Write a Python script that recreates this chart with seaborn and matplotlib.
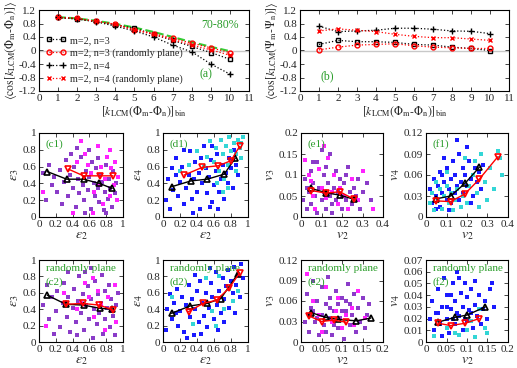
import numpy as np
import pandas as pd
import matplotlib
matplotlib.use("Agg")
import matplotlib.pyplot as plt
import seaborn as sns

sns.set_style("ticks")
plt.rcParams['font.family'] = ['Liberation Serif', 'DejaVu Serif']
plt.rcParams['mathtext.fontset'] = 'stix'
plt.rcParams['xtick.direction'] = 'in'
plt.rcParams['ytick.direction'] = 'in'
plt.rcParams['xtick.top'] = True
plt.rcParams['ytick.right'] = True
plt.rcParams['font.size'] = 8

GREEN = '#2a9d2a'
PURPLE = '#8a3cc8'
MAGENTA = '#ff22ff'
BLUE = '#1a1aff'
CYAN = '#33d6d6'

# ---------------- data: panel (a) ----------------
bins = [1, 2, 3, 4, 5, 6, 7, 8, 9, 10]
a_m2n3 = [0.98, 0.94, 0.86, 0.76, 0.66, 0.48, 0.30, 0.12, -0.06, -0.26]
a_m2n3_rand = [0.98, 0.95, 0.86, 0.78, 0.62, 0.50, 0.36, 0.22, 0.08, -0.06]
a_m2n4 = [0.98, 0.93, 0.85, 0.72, 0.58, 0.40, 0.16, -0.04, -0.40, -0.70]
a_m2n4_rand = [0.98, 0.95, 0.86, 0.78, 0.60, 0.48, 0.32, 0.16, 0.02, -0.14]
a_green = [0.99, 0.95, 0.88, 0.79, 0.68, 0.55, 0.40, 0.25, 0.11, -0.02]

# ---------------- data: panel (b) ----------------
b_m2n3 = [0.18, 0.30, 0.26, 0.26, 0.24, 0.18, 0.16, 0.10, 0.06, 0.00]
b_m2n3_rand = [0.02, 0.10, 0.16, 0.18, 0.20, 0.14, 0.10, 0.08, 0.06, 0.06]
b_m2n4 = [0.72, 0.56, 0.58, 0.60, 0.66, 0.66, 0.63, 0.58, 0.57, 0.50]
b_m2n4_rand = [0.58, 0.64, 0.60, 0.56, 0.48, 0.42, 0.38, 0.38, 0.34, 0.30]

# ---------------- data: scatter panels ----------------
c1_p = [(0.05,0.52),(0.08,0.20),(0.12,0.62),(0.15,0.38),(0.18,0.48),(0.22,0.30),(0.25,0.56),(0.27,0.15),(0.30,0.42),(0.32,0.68),(0.35,0.25),(0.37,0.50),(0.40,0.35),(0.42,0.60),(0.44,0.12),(0.46,0.45),(0.48,0.28),(0.50,0.72),(0.52,0.38),(0.54,0.20),(0.56,0.55),(0.58,0.32),(0.60,0.48),(0.62,0.10),(0.63,0.65),(0.65,0.40),(0.67,0.25),(0.68,0.58),(0.70,0.35),(0.72,0.18),(0.73,0.50),(0.75,0.42),(0.77,0.08),(0.78,0.30),(0.80,0.62),(0.82,0.22),(0.83,0.45),(0.85,0.35),(0.87,0.12),(0.88,0.55),(0.90,0.28),(0.92,0.40),(0.60,0.80),(0.45,0.82),(0.70,0.70),(0.55,0.05),(0.80,0.05),(0.38,0.75)]
c1_m = [(0.50,0.90),(0.55,0.75),(0.62,0.52),(0.66,0.30),(0.70,0.85),(0.74,0.60),(0.76,0.15),(0.79,0.45),(0.81,0.72),(0.84,0.25),(0.86,0.58),(0.89,0.38),(0.91,0.65),(0.93,0.20),(0.94,0.48),(0.58,0.62),(0.64,0.05),(0.72,0.38),(0.45,0.65),(0.85,0.80),(0.05,0.30),(0.40,0.05)]
c1_black = [(0.10,0.54),(0.33,0.45),(0.53,0.45),(0.72,0.40),(0.87,0.34)]
c1_red = [(0.35,0.57),(0.53,0.49),(0.73,0.49),(0.88,0.49)]

d1_b = [(0.03,0.20),(0.06,0.45),(0.10,0.58),(0.12,0.32),(0.15,0.70),(0.18,0.25),(0.20,0.42),(0.22,0.60),(0.25,0.15),(0.27,0.35),(0.30,0.50),(0.32,0.78),(0.34,0.22),(0.36,0.45),(0.38,0.65),(0.40,0.30),(0.42,0.52),(0.44,0.10),(0.46,0.40),(0.48,0.85),(0.50,0.58),(0.52,0.28),(0.54,0.48),(0.56,0.68),(0.58,0.18),(0.60,0.38),(0.62,0.55),(0.64,0.75),(0.66,0.30),(0.68,0.45),(0.70,0.62),(0.72,0.22),(0.74,0.52),(0.76,0.40),(0.78,0.70),(0.80,0.58),(0.82,0.35),(0.84,0.80),(0.86,0.62),(0.88,0.50),(0.45,0.70),(0.55,0.12),(0.35,0.05),(0.65,0.10),(0.25,0.80),(0.15,0.50),(0.08,0.10),(0.58,0.85)]
d1_c = [(0.20,0.55),(0.40,0.78),(0.52,0.72),(0.55,0.90),(0.60,0.65),(0.62,0.82),(0.66,0.55),(0.68,0.92),(0.70,0.75),(0.72,0.45),(0.74,0.85),(0.76,0.62),(0.78,0.95),(0.80,0.78),(0.82,0.68),(0.84,0.88),(0.86,0.75),(0.88,0.92),(0.90,0.82),(0.92,0.70),(0.94,0.95),(0.64,0.40),(0.86,0.55),(0.48,0.60),(0.30,0.62),(0.77,0.35),(0.92,0.88),(0.70,0.30)]
d1_black = [(0.10,0.36),(0.33,0.43),(0.52,0.45),(0.72,0.51),(0.85,0.70)]
d1_red = [(0.25,0.50),(0.46,0.59),(0.65,0.61),(0.80,0.67),(0.90,0.84)]

e1_p = [(0.01,0.04),(0.02,0.09),(0.03,0.02),(0.04,0.06),(0.05,0.11),(0.05,0.03),(0.06,0.08),(0.07,0.05),(0.08,0.13),(0.08,0.01),(0.09,0.07),(0.10,0.04),(0.11,0.10),(0.11,0.06),(0.12,0.02),(0.13,0.08),(0.14,0.05),(0.14,0.15),(0.15,0.03),(0.16,0.07),(0.17,0.11),(0.17,0.04),(0.18,0.06),(0.19,0.09),(0.20,0.02),(0.20,0.05),(0.21,0.08),(0.22,0.04),(0.23,0.12),(0.24,0.06),(0.25,0.03),(0.26,0.07),(0.27,0.05),(0.28,0.09),(0.29,0.02),(0.30,0.06),(0.32,0.08),(0.34,0.04),(0.10,0.16),(0.06,0.13),(0.03,0.07),(0.15,0.01),(0.12,0.12),(0.22,0.10)]
e1_m = [(0.02,0.135),(0.04,0.10),(0.06,0.05),(0.07,0.02),(0.09,0.115),(0.10,0.07),(0.12,0.045),(0.13,0.14),(0.15,0.06),(0.16,0.10),(0.18,0.03),(0.19,0.07),(0.21,0.05),(0.23,0.02),(0.25,0.09),(0.28,0.04),(0.30,0.11),(0.35,0.02),(0.11,0.17),(0.05,0.085)]
e1_black = [(0.05,0.068),(0.12,0.058),(0.19,0.052),(0.26,0.042)]
e1_red = [(0.05,0.063),(0.12,0.057),(0.19,0.060),(0.26,0.042)]

f1_b = [(0.02,0.04),(0.03,0.02),(0.04,0.055),(0.05,0.03),(0.06,0.045),(0.07,0.015),(0.07,0.065),(0.08,0.035),(0.09,0.05),(0.10,0.025),(0.10,0.07),(0.11,0.04),(0.12,0.055),(0.12,0.02),(0.13,0.08),(0.14,0.035),(0.14,0.06),(0.15,0.045),(0.16,0.09),(0.16,0.025),(0.17,0.05),(0.18,0.07),(0.18,0.035),(0.19,0.06),(0.20,0.045),(0.21,0.08),(0.22,0.055),(0.23,0.03),(0.24,0.07),(0.25,0.05),(0.26,0.065),(0.27,0.04),(0.28,0.075),(0.15,0.11),(0.09,0.085),(0.05,0.012),(0.11,0.01),(0.20,0.10),(0.22,0.02),(0.08,0.06)]
f1_c = [(0.02,0.02),(0.03,0.035),(0.04,0.01),(0.05,0.05),(0.06,0.025),(0.07,0.04),(0.08,0.012),(0.09,0.03),(0.10,0.045),(0.11,0.02),(0.12,0.035),(0.13,0.01),(0.14,0.025),(0.15,0.04),(0.17,0.015),(0.18,0.03),(0.20,0.02),(0.21,0.045),(0.23,0.06),(0.25,0.035),(0.27,0.09),(0.29,0.05),(0.31,0.07),(0.33,0.04),(0.35,0.095),(0.37,0.06),(0.30,0.025),(0.26,0.015),(0.10,0.065),(0.19,0.085),(0.24,0.08),(0.36,0.085)]
f1_black = [(0.05,0.026),(0.12,0.030),(0.19,0.048),(0.26,0.071)]
f1_red = [(0.05,0.023),(0.12,0.022),(0.19,0.033),(0.26,0.054),(0.35,0.086)]

c2_p = [(0.05,0.45),(0.10,0.70),(0.12,0.28),(0.16,0.55),(0.20,0.38),(0.22,0.62),(0.25,0.18),(0.28,0.48),(0.30,0.72),(0.33,0.30),(0.35,0.55),(0.37,0.12),(0.40,0.42),(0.42,0.65),(0.44,0.25),(0.46,0.50),(0.48,0.80),(0.50,0.35),(0.52,0.58),(0.54,0.15),(0.56,0.45),(0.58,0.68),(0.60,0.28),(0.62,0.52),(0.64,0.05),(0.65,0.40),(0.67,0.75),(0.69,0.22),(0.70,0.58),(0.72,0.35),(0.74,0.48),(0.76,0.10),(0.78,0.62),(0.79,0.28),(0.81,0.42),(0.83,0.70),(0.84,0.18),(0.86,0.52),(0.88,0.32),(0.90,0.08),(0.92,0.45),(0.94,0.60),(0.55,0.85),(0.35,0.85),(0.75,0.82),(0.62,0.90),(0.45,0.08),(0.18,0.10)]
c2_m = [(0.08,0.20),(0.30,0.60),(0.45,0.40),(0.55,0.72),(0.60,0.55),(0.66,0.30),(0.70,0.62),(0.74,0.45),(0.78,0.15),(0.82,0.55),(0.86,0.38),(0.90,0.70),(0.92,0.25),(0.50,0.48),(0.64,0.78)]
c2_black = [(0.10,0.57),(0.32,0.46),(0.53,0.45),(0.73,0.41),(0.87,0.40)]
c2_red = [(0.32,0.46),(0.52,0.47),(0.72,0.45),(0.88,0.39)]

d2_b = [(0.03,0.15),(0.05,0.40),(0.08,0.58),(0.10,0.28),(0.13,0.48),(0.16,0.65),(0.18,0.20),(0.20,0.38),(0.22,0.55),(0.25,0.12),(0.27,0.45),(0.30,0.70),(0.32,0.30),(0.34,0.52),(0.36,0.08),(0.38,0.40),(0.40,0.62),(0.42,0.25),(0.44,0.75),(0.46,0.48),(0.48,0.32),(0.50,0.60),(0.52,0.18),(0.54,0.42),(0.56,0.72),(0.58,0.55),(0.60,0.28),(0.62,0.85),(0.64,0.45),(0.66,0.62),(0.68,0.35),(0.70,0.78),(0.72,0.52),(0.74,0.68),(0.76,0.88),(0.78,0.42),(0.80,0.75),(0.82,0.60),(0.84,0.92),(0.86,0.70),(0.88,0.82),(0.90,0.55),(0.92,0.95),(0.94,0.78),(0.65,0.15),(0.45,0.10),(0.55,0.90),(0.28,0.05),(0.72,0.25),(0.85,0.35),(0.15,0.35),(0.38,0.82)]
d2_c = [(0.10,0.55),(0.35,0.22),(0.58,0.38),(0.66,0.80),(0.72,0.40),(0.78,0.65),(0.82,0.50),(0.88,0.62),(0.62,0.20),(0.50,0.78)]
d2_black = [(0.10,0.35),(0.32,0.44),(0.52,0.47),(0.68,0.53),(0.88,0.83)]
d2_red = [(0.30,0.37),(0.47,0.47),(0.63,0.51),(0.78,0.66),(0.90,0.84)]

e2_p = [(0.01,0.03),(0.015,0.07),(0.02,0.015),(0.025,0.05),(0.03,0.09),(0.035,0.03),(0.04,0.06),(0.045,0.01),(0.05,0.04),(0.05,0.08),(0.055,0.025),(0.06,0.055),(0.065,0.095),(0.07,0.035),(0.07,0.065),(0.075,0.01),(0.08,0.045),(0.085,0.075),(0.09,0.02),(0.09,0.055),(0.095,0.035),(0.10,0.065),(0.105,0.005),(0.11,0.045),(0.115,0.085),(0.12,0.025),(0.12,0.055),(0.125,0.04),(0.13,0.07),(0.135,0.015),(0.14,0.05),(0.145,0.03),(0.15,0.065),(0.155,0.02),(0.16,0.04),(0.165,0.055),(0.04,0.035),(0.06,0.015),(0.08,0.025),(0.10,0.045),(0.03,0.045),(0.11,0.06),(0.02,0.04),(0.07,0.05)]
e2_m = [(0.015,0.10),(0.03,0.06),(0.045,0.04),(0.06,0.08),(0.075,0.03),(0.09,0.065),(0.10,0.02),(0.11,0.04),(0.125,0.05),(0.14,0.075),(0.155,0.035),(0.05,0.015),(0.085,0.045),(0.13,0.025)]
e2_black = [(0.025,0.043),(0.06,0.036),(0.09,0.033),(0.135,0.031),(0.17,0.035)]
e2_red = [(0.02,0.038),(0.05,0.030),(0.08,0.032),(0.11,0.029)]

f2_b = [(0.01,0.02),(0.015,0.035),(0.02,0.01),(0.025,0.025),(0.03,0.045),(0.035,0.015),(0.04,0.03),(0.045,0.055),(0.05,0.02),(0.05,0.04),(0.055,0.008),(0.06,0.028),(0.065,0.05),(0.07,0.015),(0.07,0.035),(0.075,0.06),(0.08,0.022),(0.085,0.042),(0.09,0.01),(0.09,0.03),(0.095,0.05),(0.10,0.018),(0.10,0.038),(0.105,0.027),(0.11,0.045),(0.115,0.012),(0.12,0.032),(0.125,0.022),(0.13,0.04),(0.135,0.015),(0.14,0.028),(0.145,0.035),(0.15,0.02),(0.155,0.045),(0.16,0.05),(0.165,0.03),(0.04,0.005),(0.06,0.04),(0.08,0.055),(0.11,0.025),(0.03,0.025),(0.12,0.052),(0.05,0.03),(0.075,0.025),(0.095,0.02),(0.065,0.02)]
f2_c = [(0.02,0.005),(0.05,0.012),(0.08,0.006),(0.10,0.01),(0.12,0.004),(0.13,0.028),(0.15,0.008),(0.145,0.012),(0.07,0.008),(0.11,0.018)]
f2_black = [(0.03,0.017),(0.07,0.021),(0.10,0.023),(0.145,0.030)]
f2_red = [(0.03,0.016),(0.06,0.014),(0.095,0.016),(0.13,0.020)]

W, H = 517, 368
fig = plt.figure(figsize=(W / 100, H / 100), dpi=100)


def px_axes(l, t, r, b):
    return fig.add_axes([l / W, (H - b) / H, (r - l) / W, (b - t) / H])


def style(ax):
    for s in ax.spines.values():
        s.set_linewidth(0.8)
        s.set_color('black')
    ax.tick_params(length=3, width=0.6, labelsize=8, pad=2)


ylab_a = r'$\langle\cos[k_{\rm LCM}(\Phi_{\rm m}\text{-}\Phi_{\rm n})]\rangle$'
ylab_b = r'$\langle\cos[k_{\rm LCM}(\Psi_{\rm m}\text{-}\Psi_{\rm n})]\rangle$'
xlab = r'$[k_{\rm LCM}(\Phi_{\rm m}\text{-}\Phi_{\rm n})]_{\rm bin}$'


def top_panel(ax, s1, s2, s3, s4, ylab):
    ax.axhline(0, color='#c8c8c8', lw=1.0, zorder=0)
    df = pd.DataFrame({'x': bins})
    specs = [
        (s1, 'black', 's', 'm=2, n=3', dict(markerfacecolor='none', markersize=3.5)),
        (s2, 'red', 'o', 'm=2, n=3 (randomly plane)', dict(markerfacecolor='none', markersize=3.5)),
        (s3, 'black', '+', 'm=2, n=4', dict(markersize=5)),
        (s4, 'red', 'x', 'm=2, n=4 (randomly plane)', dict(markersize=3.5)),
    ]
    for vals, col, mk, lab, kw in specs:
        d = df.assign(y=vals)
        sns.lineplot(data=d, x='x', y='y', ax=ax, color=col, marker=mk,
                     linestyle=':', lw=0.9, markeredgewidth=1.0,
                     markeredgecolor=col, label=lab, **kw)
    ax.set_xlim(0, 11)
    ax.set_ylim(-1.2, 1.2)
    ax.set_xticks(range(0, 12))
    ax.set_yticks(np.arange(-1.2, 1.21, 0.4))
    ax.set_yticklabels(['-1.2', '-0.8', '-0.4', '0', '0.4', '0.8', '1.2'])
    ax.set_xlabel(xlab, fontsize=8.5, labelpad=1)
    ax.set_ylabel(ylab, fontsize=8.5, labelpad=0)
    style(ax)


ax_a = px_axes(39, 10, 249, 91)
top_panel(ax_a, a_m2n3, a_m2n3_rand, a_m2n4, a_m2n4_rand, ylab_a)
sns.lineplot(x=bins, y=a_green, ax=ax_a, color='#33cc33', linestyle='--', lw=1.5, zorder=1, legend=False)
ax_a.legend(loc='lower left', bbox_to_anchor=(0.0, 0.0), frameon=False, fontsize=7.3,
            handlelength=2.0, numpoints=2, labelspacing=0.35, borderaxespad=0.3, handletextpad=0.4)
ax_a.text(0.95, 0.78, '70-80%', transform=ax_a.transAxes, color=GREEN, ha='right', fontsize=8.5)
ax_a.text(8.4, -0.78, '(a)', color=GREEN, fontsize=8.5)

ax_b = px_axes(300, 10, 509, 91)
top_panel(ax_b, b_m2n3, b_m2n3_rand, b_m2n4, b_m2n4_rand, ylab_b)
ax_b.get_legend().remove()
ax_b.text(1.1, -0.85, '(b)', color=GREEN, fontsize=8.5)


def scatter_panel(ax, pts1, c1, pts2, c2, black, red, xlim, ylim, xt, yt, xtl, ytl, xl, yl, tag, rand=False):
    for pts, col in ((pts1, c1), (pts2, c2)):
        d = pd.DataFrame(pts, columns=['x', 'y'])
        sns.scatterplot(data=d, x='x', y='y', ax=ax, color=col, marker='s', s=5,
                        linewidth=0, legend=False, zorder=2)
    for pts, col, mk in ((black, 'black', '^'), (red, 'red', 'v')):
        d = pd.DataFrame(pts, columns=['x', 'y'])
        sns.lineplot(data=d, x='x', y='y', ax=ax, color=col, marker=mk, lw=1.0,
                     markersize=4, markerfacecolor='none', markeredgecolor=col,
                     markeredgewidth=1.2, legend=False, zorder=4, sort=False)
    ax.set_xlim(*xlim)
    ax.set_ylim(*ylim)
    ax.set_xticks(xt)
    ax.set_xticklabels(xtl)
    ax.set_yticks(yt)
    ax.set_yticklabels(ytl)
    ax.set_xlabel(xl, fontsize=10, labelpad=0.5)
    ax.set_ylabel(yl, fontsize=10, labelpad=1)
    if rand:
        ax.text(0.08, 0.86, 'randomly plane', transform=ax.transAxes, color=GREEN, fontsize=8)
        ax.text(0.08, 0.70, tag, transform=ax.transAxes, color=GREEN, fontsize=8)
    else:
        ax.text(0.08, 0.84, tag, transform=ax.transAxes, color=GREEN, fontsize=8)
    style(ax)


e_t = [0, 0.2, 0.4, 0.6, 0.8, 1]
e_tl = ['0', '0.2', '0.4', '0.6', '0.8', '1']
eps2 = r'$\varepsilon_2$'
eps3 = r'$\varepsilon_3$'
eps4 = r'$\varepsilon_4$'
v2 = r'$v_2$'
v3 = r'$v_3$'
v4 = r'$v_4$'

row2 = (133, 217)
row3 = (260, 342)
cols = [(39, 123), (163, 248), (301, 383), (426, 508)]

ax = px_axes(cols[0][0], row2[0], cols[0][1], row2[1])
scatter_panel(ax, c1_p, PURPLE, c1_m, MAGENTA, c1_black, c1_red, (0, 1), (0, 1), e_t, e_t, e_tl, e_tl, eps2, eps3, '(c1)')
ax = px_axes(cols[1][0], row2[0], cols[1][1], row2[1])
scatter_panel(ax, d1_b, BLUE, d1_c, CYAN, d1_black, d1_red, (0, 1), (0, 1), e_t, e_t, e_tl, e_tl, eps2, eps4, '(d1)')
ax = px_axes(cols[2][0], row2[0], cols[2][1], row2[1])
scatter_panel(ax, e1_p, PURPLE, e1_m, MAGENTA, e1_black, e1_red, (0, 0.4), (0, 0.2),
              [0, 0.1, 0.2, 0.3, 0.4], [0, 0.05, 0.1, 0.15, 0.2],
              ['0', '0.1', '0.2', '0.3', '0.4'], ['0', '0.05', '0.1', '0.15', '0.2'], v2, v3, '(e1)')
ax = px_axes(cols[3][0], row2[0], cols[3][1], row2[1])
scatter_panel(ax, f1_b, BLUE, f1_c, CYAN, f1_black, f1_red, (0, 0.4), (0, 0.12),
              [0, 0.1, 0.2, 0.3, 0.4], [0, 0.03, 0.06, 0.09, 0.12],
              ['0', '0.1', '0.2', '0.3', '0.4'], ['0', '0.03', '0.06', '0.09', '0.12'], v2, v4, '(f1)')

ax = px_axes(cols[0][0], row3[0], cols[0][1], row3[1])
scatter_panel(ax, c2_p, PURPLE, c2_m, MAGENTA, c2_black, c2_red, (0, 1), (0, 1), e_t, e_t, e_tl, e_tl, eps2, eps3, '(c2)', True)
ax = px_axes(cols[1][0], row3[0], cols[1][1], row3[1])
scatter_panel(ax, d2_b, BLUE, d2_c, CYAN, d2_black, d2_red, (0, 1), (0, 1), e_t, e_t, e_tl, e_tl, eps2, eps4, '(d2)', True)
ax = px_axes(cols[2][0], row3[0], cols[2][1], row3[1])
scatter_panel(ax, e2_p, PURPLE, e2_m, MAGENTA, e2_black, e2_red, (0, 0.2), (0, 0.12),
              [0, 0.05, 0.1, 0.15, 0.2], [0, 0.03, 0.06, 0.09, 0.12],
              ['0', '0.05', '0.1', '0.15', '0.2'], ['0', '0.03', '0.06', '0.09', '0.12'], v2, v3, '(e2)', True)
ax = px_axes(cols[3][0], row3[0], cols[3][1], row3[1])
scatter_panel(ax, f2_b, BLUE, f2_c, CYAN, f2_black, f2_red, (0, 0.2), (0, 0.07),
              [0, 0.05, 0.1, 0.15, 0.2], [0, 0.01, 0.02, 0.03, 0.04, 0.05, 0.06, 0.07],
              ['0', '0.05', '0.1', '0.15', '0.2'], ['0', '0.01', '0.02', '0.03', '0.04', '0.05', '0.06', '0.07'], v2, v4, '(f2)', True)

fig.savefig('out.png', dpi=100)
